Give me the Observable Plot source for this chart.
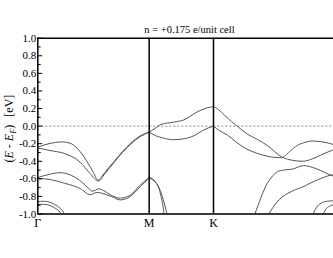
<!DOCTYPE html>
<html><head><meta charset="utf-8">
<script src="https://cdn.jsdelivr.net/npm/d3@7"></script>
<script src="https://cdn.jsdelivr.net/npm/@observablehq/plot@0.6"></script>
<style>
html,body{margin:0;padding:0;background:#fff;overflow:hidden;width:333px;height:258px;}
#chart{position:relative;width:333px;height:258px;overflow:hidden;}
#chart svg{display:block;max-width:none !important;width:345px !important;height:258px !important;}
#chart svg text{font-family:'Liberation Serif','Times New Roman',serif !important;}
</style></head><body><div id="chart"></div>
<script>
// High-symmetry points (path Γ–M–K–Γ, lengths 1 : 1/√3 : 2/√3)
const kLabels = ["Γ", "M", "K"];
const kTicks = [0, 1, 1.5774];
const kEnd = 2.7321;
const titleText = "n = +0.175 e/unit cell";
const yMajor = [-1.0, -0.8, -0.6, -0.4, -0.2, 0.0, 0.2, 0.4, 0.6, 0.8, 1.0];
const yMinor = [-0.9, -0.7, -0.5, -0.3, -0.1, 0.1, 0.3, 0.5, 0.7, 0.9];
const fermi = [0];

// Bands: [k, E - E_F (eV)]
const bandA = [[0,-0.24],[0.1,-0.2],[0.22,-0.18],[0.3,-0.2],[0.38,-0.29],[0.45,-0.42],[0.5,-0.53],[0.54,-0.615],[0.6,-0.53],[0.68,-0.41],[0.76,-0.29],[0.83,-0.2],[0.92,-0.11],[1.0,-0.07]];
const bandB = [[0,-0.25],[0.12,-0.28],[0.235,-0.31],[0.38,-0.41],[0.47,-0.54],[0.545,-0.625],[0.6,-0.545],[0.68,-0.42],[0.76,-0.3],[0.83,-0.21],[0.92,-0.12],[1.0,-0.07]];
const bandC = [[0,-0.585],[0.1,-0.55],[0.2,-0.53],[0.3,-0.56],[0.38,-0.62],[0.45,-0.7],[0.49,-0.74],[0.55,-0.715],[0.6,-0.74],[0.65,-0.78],[0.74,-0.82],[0.83,-0.785],[0.92,-0.67],[1.0,-0.585]];
const bandD = [[0,-0.595],[0.12,-0.61],[0.24,-0.65],[0.38,-0.71],[0.47,-0.78],[0.53,-0.755],[0.58,-0.765],[0.66,-0.8],[0.74,-0.84],[0.83,-0.8],[0.92,-0.69],[1.0,-0.59]];
const bandH1L = [[0,-0.86],[0.05,-0.855],[0.09,-0.86],[0.15,-0.89],[0.2,-0.935],[0.235,-0.99],[0.25,-1.03]];
const bandH2L = [[0,-0.89],[0.05,-0.89],[0.1,-0.9],[0.15,-0.93],[0.19,-0.965],[0.225,-1.03]];
const bandU = [[1.0,-0.07],[1.06,-0.02],[1.11,0.02],[1.22,0.045],[1.31,0.07],[1.43,0.16],[1.5,0.2],[1.5774,0.22],[1.62,0.19],[1.68,0.12],[1.74,0.05],[1.79,0.0],[1.88,-0.09],[1.97,-0.15],[2.06,-0.22],[2.19,-0.35],[2.29,-0.39],[2.38,-0.4],[2.47,-0.37],[2.54,-0.33],[2.655,-0.27],[2.7321,-0.245]];
const bandL1 = [[1.0,-0.07],[1.06,-0.11],[1.11,-0.13],[1.22,-0.155],[1.33,-0.14],[1.41,-0.105],[1.48,-0.05],[1.5774,0.0]];
const bandL2 = [[1.5774,0.0],[1.63,-0.05],[1.7,-0.1],[1.78,-0.18],[1.86,-0.25],[1.97,-0.31],[2.09,-0.35],[2.19,-0.36],[2.26,-0.29],[2.33,-0.22],[2.4,-0.185],[2.46,-0.17],[2.56,-0.18],[2.655,-0.21],[2.7321,-0.235]];
const bandE1 = [[1.0,-0.585],[1.03,-0.6],[1.06,-0.64],[1.09,-0.72],[1.11,-0.82],[1.125,-0.92],[1.137,-1.03]];
const bandE2 = [[1.0,-0.59],[1.04,-0.62],[1.08,-0.68],[1.11,-0.77],[1.14,-0.9],[1.167,-1.03]];
const bandF = [[1.94,-1.03],[1.99,-0.86],[2.044,-0.69],[2.1,-0.58],[2.149,-0.52],[2.208,-0.5],[2.284,-0.49],[2.385,-0.45],[2.49,-0.48],[2.58,-0.53],[2.655,-0.57],[2.7321,-0.585]];
const bandG = [[2.058,-1.03],[2.164,-0.84],[2.284,-0.74],[2.4,-0.68],[2.445,-0.65],[2.535,-0.6],[2.655,-0.555],[2.7321,-0.57]];
const bandH1R = [[2.462,-1.03],[2.5,-0.93],[2.545,-0.875],[2.6,-0.855],[2.655,-0.85],[2.7321,-0.86]];
const bandH2R = [[2.552,-1.03],[2.59,-0.94],[2.63,-0.905],[2.68,-0.89],[2.7321,-0.89]];

const bands = {bandA, bandB, bandC, bandD, bandH1L, bandH2L, bandU, bandL1, bandL2, bandE1, bandE2, bandF, bandG, bandH1R, bandH2R};
const rows = Object.entries(bands).flatMap(([name, pts]) => pts.map(([k, E]) => ({band: name, k, E})));

const kLabelMap = new Map(kTicks.map((k, i) => [k, kLabels[i]]));
const tickShape = {draw(context, l) { context.moveTo(0, 0); context.lineTo(0, -l); }};
const serif = "'Liberation Serif', 'Times New Roman', serif";

const W = 345, H = 258;
const plot = Plot.plot({
  width: W, height: H,
  marginLeft: 37.3, marginRight: 3.4, marginTop: 37.7, marginBottom: 44.5,
  x: {domain: [0, kEnd]},
  y: {domain: [-1, 1]},
  style: {fontFamily: serif, fontSize: "11px", background: "white", color: "black", maxWidth: "none"},
  marks: [
    Plot.ruleY(fermi, {stroke: "#8a8a8a", strokeDasharray: "2,2", strokeWidth: 1}),
    Plot.lineY(rows, {x: "k", y: "E", z: "band", stroke: "#555555", strokeWidth: 1, curve: "monotone-x", clip: true}),
    Plot.ruleX(kTicks, {stroke: "black", strokeWidth: 1.5}),
    Plot.ruleX([kEnd], {stroke: "black", strokeWidth: 1.5}),
    Plot.ruleY([1], {stroke: "black", strokeWidth: 1.5}),
    Plot.ruleY([-1], {stroke: "#3a3a3a", strokeWidth: 2.2}),
    Plot.vector(yMajor, {y: d => d, frameAnchor: "left", length: 4, rotate: 90, anchor: "start", shape: tickShape, stroke: "black", strokeWidth: 1}),
    Plot.vector(yMinor, {y: d => d, frameAnchor: "left", length: 2.5, rotate: 90, anchor: "start", shape: tickShape, stroke: "black", strokeWidth: 1}),
    Plot.axisY({ticks: yMajor, tickSize: 0, tickPadding: 1.5, tickFormat: d => d.toFixed(1), label: null, fontSize: 11}),
    Plot.axisX({ticks: kTicks, tickSize: 0, tickPadding: 4.5, tickFormat: d => kLabelMap.get(d), label: null, fontSize: 12})
  ]
});

const svg = d3.select(plot);
const xs = plot.scale("x"), ys = plot.scale("y");
svg.append("text")
  .attr("x", (xs.apply(0) + xs.apply(kEnd)) / 2)
  .attr("y", ys.apply(1) - 5)
  .attr("text-anchor", "middle")
  .attr("font-family", serif).attr("font-size", 10.5)
  .text(titleText);

const yl = svg.append("text")
  .attr("transform", `translate(13,${(ys.apply(-1) + ys.apply(1)) / 2 + 3}) rotate(-90)`)
  .attr("text-anchor", "middle")
  .attr("font-family", serif).attr("font-size", 12);
yl.append("tspan").text("(");
yl.append("tspan").attr("font-style", "italic").text("E");
yl.append("tspan").text(" - ");
yl.append("tspan").attr("font-style", "italic").text("E");
yl.append("tspan").attr("font-style", "italic").attr("font-size", 8.5).attr("dy", 3).text("F");
yl.append("tspan").attr("dy", -3).text(")");
yl.append("tspan").attr("dx", 8).text("[eV]");

document.getElementById("chart").appendChild(plot);
</script>
</body></html>
